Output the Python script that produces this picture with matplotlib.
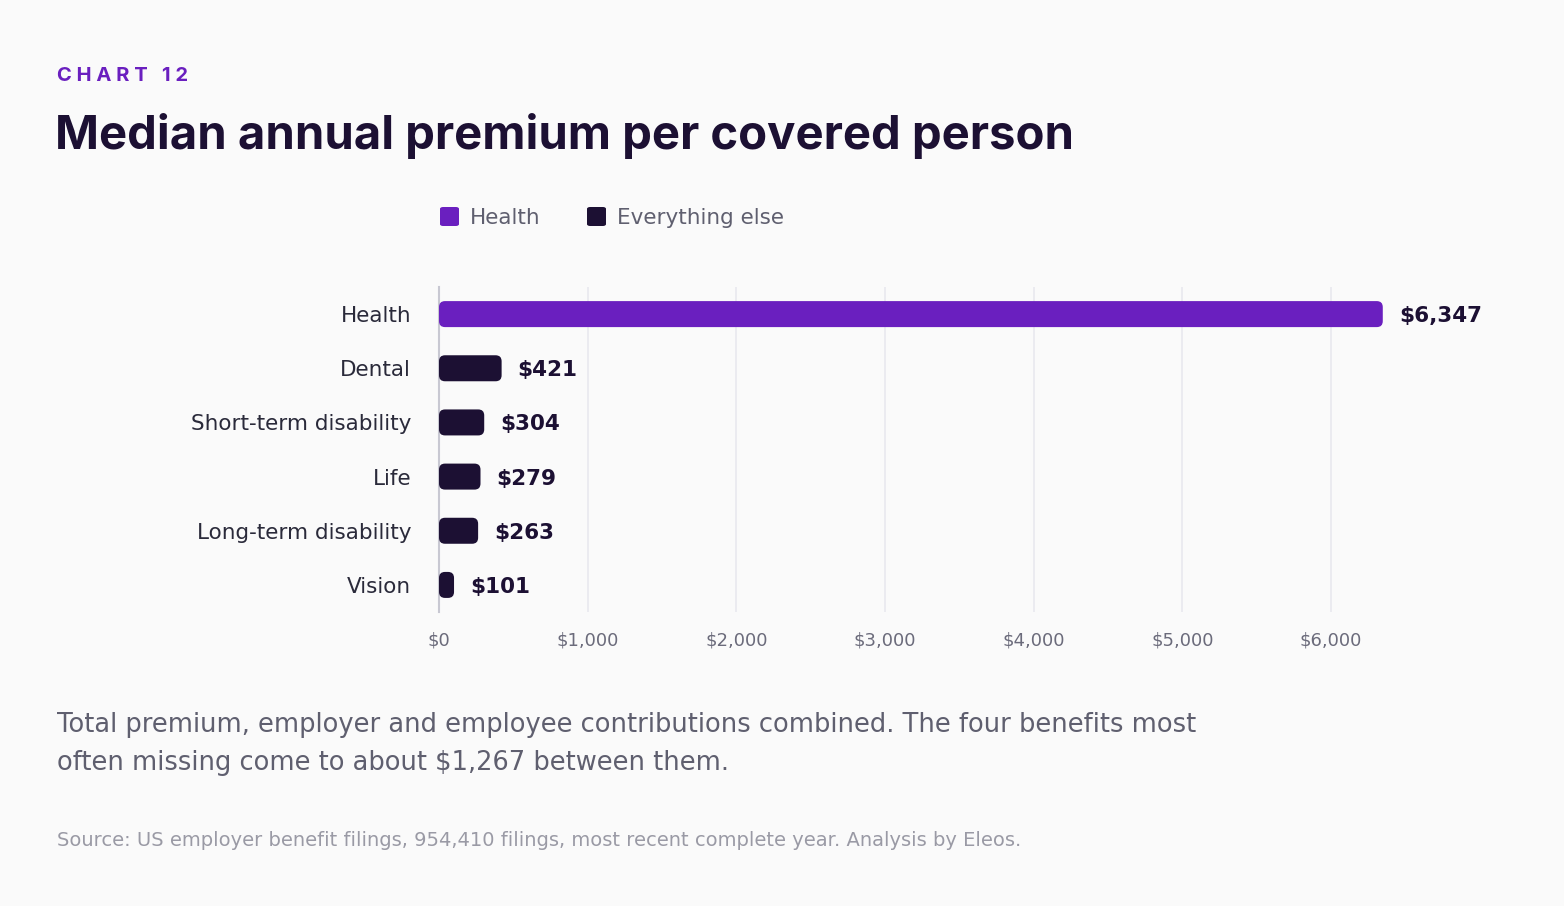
import matplotlib.pyplot as plt
from matplotlib.patches import FancyBboxPatch

categories = ["Health", "Dental", "Short-term disability", "Life", "Long-term disability", "Vision"]
values = [6347, 421, 304, 279, 263, 101]
series = ["Health", "Everything else", "Everything else", "Everything else", "Everything else", "Everything else"]
xticks = [0, 1000, 2000, 3000, 4000, 5000, 6000]

colors = {"Health": "#6a1fbf", "Everything else": "#1c1033"}
bg = "#fafafa"
font = ["Inter", "DejaVu Sans"]
body = ["DejaVu Sans"]

fig = plt.figure(figsize=(15.64, 9.06), dpi=100, facecolor=bg)
ax = fig.add_axes([0.2807, 0.3245, 0.6465, 0.3587])
ax.set_facecolor(bg)
xmax = 6800
ax.set_xlim(0, xmax)
ax.set_ylim(len(categories) - 0.5, -0.5)

# rounding in px -> data units
px_x = xmax / (0.6465 * 1564)
px_y = len(categories) / (0.3587 * 906)
bar_h = 26 * px_y
for i, (v, s) in enumerate(zip(values, series)):
    p = FancyBboxPatch((0, i - bar_h / 2), v, bar_h,
                       boxstyle="round,pad=0,rounding_size=%f" % (6 * px_x),
                       mutation_aspect=px_y / px_x, fc=colors[s], ec="none", zorder=3)
    ax.add_patch(p)
    ax.text(v + 16 * px_x, i, "${:,}".format(v), va="center_baseline", ha="left",
            fontsize=15.5, fontweight="bold", color="#1c1033", family=body)

ax.set_xticks(xticks)
ax.set_xticklabels(["${:,}".format(t) for t in xticks], fontsize=13, color="#6b6b7b", family=body)
ax.set_yticks(range(len(categories)))
ax.set_yticklabels(categories, fontsize=15.5, color="#2a2a3a", family=body)
ax.tick_params(length=0, pad=14)
ax.tick_params(axis="y", pad=20)
ax.grid(axis="x", color="#e8e8ee", lw=1.2, zorder=0)
for sp in ["top", "right", "bottom"]:
    ax.spines[sp].set_visible(False)
ax.spines["left"].set_color("#c8c8d2")
ax.spines["left"].set_linewidth(1.5)

fig.text(57 / 1564, 1 - 76 / 906, "C H A R T   1 2", fontsize=14.5, fontweight="bold",
         color="#6a1fbf", va="center", family=font)
fig.text(55 / 1564, 1 - 136 / 906, "Median annual premium per covered person", fontsize=34,
         fontweight="bold", color="#1c1033", va="center", family=font)

# legend
for x0, lab, s in [(440, "Health", "Health"), (587, "Everything else", "Everything else")]:
    fig.patches.append(FancyBboxPatch((x0 / 1564, 1 - 226 / 906), 19 / 1564, 19 / 906,
                                      boxstyle="round,pad=0,rounding_size=0.002",
                                      transform=fig.transFigure, fc=colors[s], ec="none"))
    fig.text((x0 + 30) / 1564, 1 - 216 / 906, lab, fontsize=15.5, color="#5f5f6f",
             va="center_baseline", family=body)

fig.text(57 / 1564, 1 - 744 / 906,
         "Total premium, employer and employee contributions combined. The four benefits most\n"
         "often missing come to about $1,267 between them.",
         fontsize=18.5, color="#5f5f6f", va="center", linespacing=1.6, family=body)
fig.text(57 / 1564, 1 - 840 / 906,
         "Source: US employer benefit filings, 954,410 filings, most recent complete year. Analysis by Eleos.",
         fontsize=14, color="#9a9aa5", va="center", family=body)

fig.savefig("out.png", dpi=100, facecolor=bg)
